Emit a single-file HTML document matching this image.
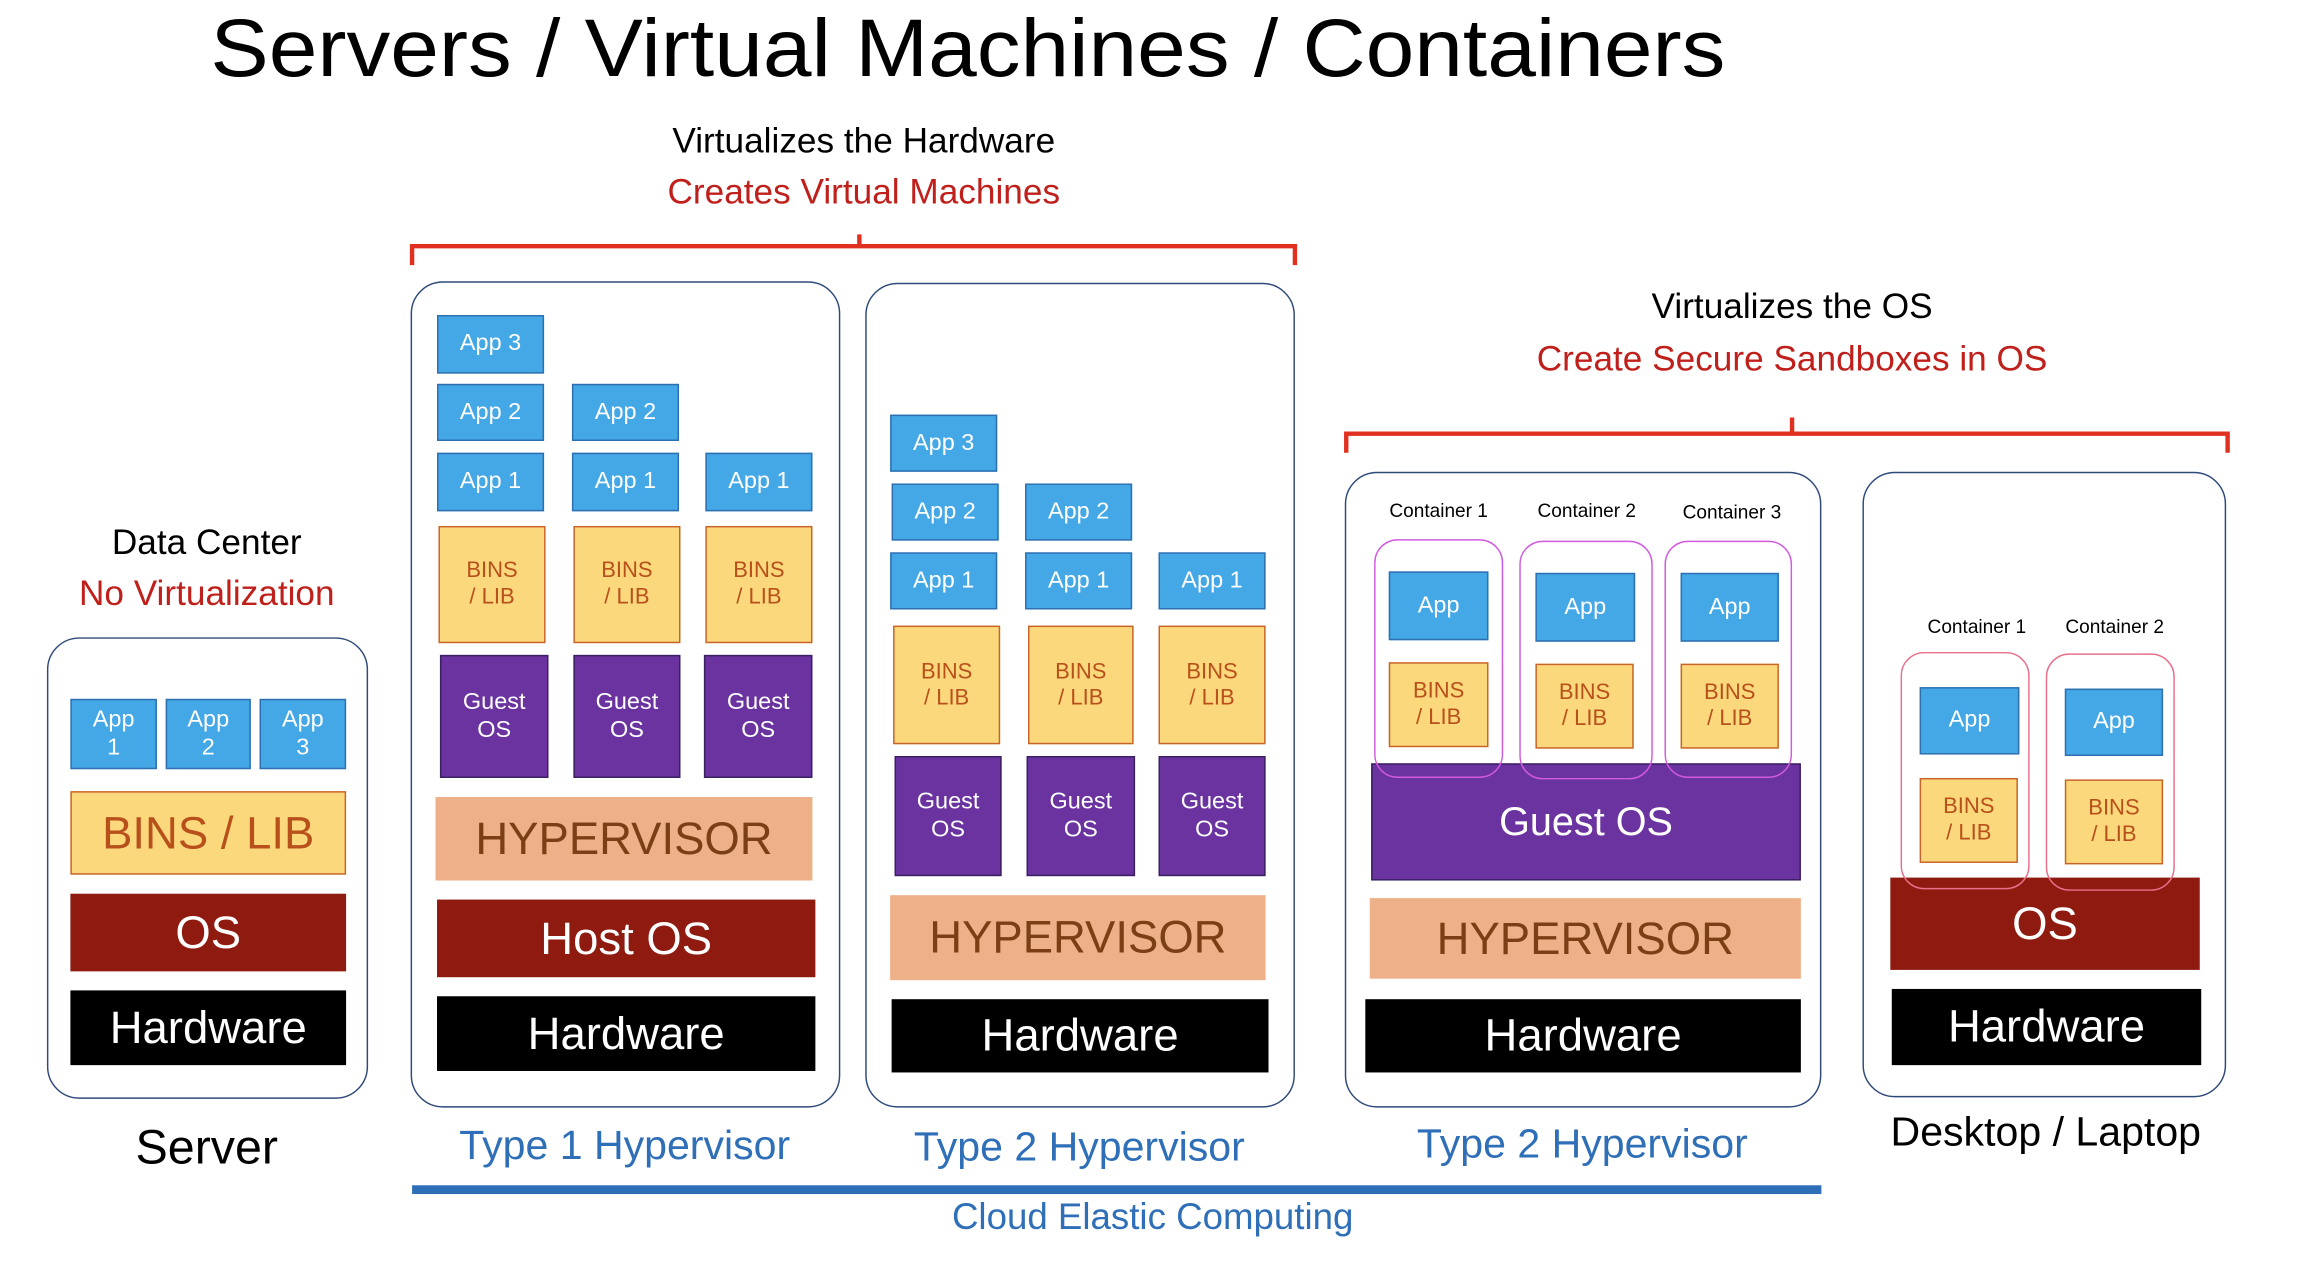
<!DOCTYPE html>
<html><head><meta charset="utf-8"><style>
html,body{margin:0;padding:0;background:#fff;}
body{width:2298px;height:1282px;overflow:hidden;position:relative;}
#s{position:absolute;left:0;top:0;width:1568px;height:875px;transform:scale(1.4665,1.4651);transform-origin:0 0;font-family:"Liberation Sans",sans-serif;}
.b{position:absolute;box-sizing:border-box;display:flex;align-items:center;justify-content:center;text-align:center;line-height:1.2;}
.app{background:#44a7e6;border:1.5px solid #2e6fb0;color:#fff;font-size:16px;}
.bin{background:#fbd87c;border:1.5px solid #c8642a;color:#b8501c;font-size:15px;}
.g{background:#6a33a0;border:1.5px solid #3a2060;color:#fff;font-size:16px;}
.hy{background:#edb088;color:#7a3f14;font-size:31px;}
.os{background:#8e1a10;color:#fff;font-size:31px;}
.hw{background:#000;color:#fff;font-size:31px;}
.box{position:absolute;box-sizing:border-box;border:1.5px solid #2f4a7a;border-radius:22px;}
.t{position:absolute;white-space:nowrap;transform:translateX(-50%);line-height:1;}
.cl{position:absolute;box-sizing:border-box;border:1.3px solid #d25ae0;border-radius:16px;}
.cp{position:absolute;box-sizing:border-box;border:1.3px solid #e8708a;border-radius:16px;}
</style></head><body><div id="s">
<div class="t" style="left:660px;top:5px;font-size:56px;transform:translateX(-50%) scaleX(1.065);">Servers / Virtual Machines / Containers</div>
<div class="t" style="left:589px;top:85px;font-size:24px;">Virtualizes the Hardware</div>
<div class="t" style="left:589px;top:120px;font-size:24px;color:#c0201c;">Creates Virtual Machines</div>
<div class="t" style="left:1222px;top:198px;font-size:24px;">Virtualizes the OS</div>
<div class="t" style="left:1222px;top:234px;font-size:24px;color:#c0201c;">Create Secure Sandboxes in OS</div>
<div class="t" style="left:141px;top:359px;font-size:24px;">Data Center</div>
<div class="t" style="left:141px;top:394px;font-size:24px;color:#c0201c;">No Virtualization</div>
<svg style="position:absolute;left:0;top:0" width="1568" height="875">
<path d="M281 181 V168 H883 V181 M586 168 V160" stroke="#e03020" stroke-width="3" fill="none"/>
<path d="M918 309 V296 H1519 V309 M1222 296 V285" stroke="#e03020" stroke-width="3" fill="none"/>
<rect x="281" y="809" width="961" height="6" fill="#2e6fb8"/>
</svg>
<div class="box" style="left:32px;top:435px;width:219px;height:315px;"></div>
<div class="b app" style="left:48px;top:477px;width:59px;height:48px;">App<br>1</div>
<div class="b app" style="left:113px;top:477px;width:58px;height:48px;">App<br>2</div>
<div class="b app" style="left:177px;top:477px;width:59px;height:48px;">App<br>3</div>
<div class="b bin" style="left:48px;top:540px;width:188px;height:57px;font-size:31px;">BINS / LIB</div>
<div class="b os" style="left:48px;top:610px;width:188px;height:53px;">OS</div>
<div class="b hw" style="left:48px;top:676px;width:188px;height:51px;">Hardware</div>
<div class="t" style="left:141px;top:766px;font-size:33px;">Server</div>
<div class="box" style="left:280px;top:192px;width:293px;height:564px;"></div>
<div class="b app" style="left:298px;top:215px;width:73px;height:40px;">App 3</div>
<div class="b app" style="left:298px;top:262px;width:73px;height:39px;">App 2</div>
<div class="b app" style="left:390px;top:262px;width:73px;height:39px;">App 2</div>
<div class="b app" style="left:298px;top:309px;width:73px;height:40px;">App 1</div>
<div class="b app" style="left:390px;top:309px;width:73px;height:40px;">App 1</div>
<div class="b app" style="left:481px;top:309px;width:73px;height:40px;">App 1</div>
<div class="b bin" style="left:299px;top:359px;width:73px;height:80px;">BINS<br>/ LIB</div>
<div class="b bin" style="left:391px;top:359px;width:73px;height:80px;">BINS<br>/ LIB</div>
<div class="b bin" style="left:481px;top:359px;width:73px;height:80px;">BINS<br>/ LIB</div>
<div class="b g" style="left:300px;top:447px;width:74px;height:84px;">Guest<br>OS</div>
<div class="b g" style="left:391px;top:447px;width:73px;height:84px;">Guest<br>OS</div>
<div class="b g" style="left:480px;top:447px;width:74px;height:84px;">Guest<br>OS</div>
<div class="b hy" style="left:297px;top:544px;width:257px;height:57px;">HYPERVISOR</div>
<div class="b os" style="left:298px;top:614px;width:258px;height:53px;">Host OS</div>
<div class="b hw" style="left:298px;top:680px;width:258px;height:51px;">Hardware</div>
<div class="t" style="left:426px;top:768px;font-size:28px;color:#2e6fb8;">Type 1 Hypervisor</div>
<div class="box" style="left:590px;top:193px;width:293px;height:563px;"></div>
<div class="b app" style="left:607px;top:283px;width:73px;height:39px;">App 3</div>
<div class="b app" style="left:608px;top:330px;width:73px;height:39px;">App 2</div>
<div class="b app" style="left:699px;top:330px;width:73px;height:39px;">App 2</div>
<div class="b app" style="left:607px;top:377px;width:73px;height:39px;">App 1</div>
<div class="b app" style="left:699px;top:377px;width:73px;height:39px;">App 1</div>
<div class="b app" style="left:790px;top:377px;width:73px;height:39px;">App 1</div>
<div class="b bin" style="left:609px;top:427px;width:73px;height:81px;">BINS<br>/ LIB</div>
<div class="b bin" style="left:701px;top:427px;width:72px;height:81px;">BINS<br>/ LIB</div>
<div class="b bin" style="left:790px;top:427px;width:73px;height:81px;">BINS<br>/ LIB</div>
<div class="b g" style="left:610px;top:516px;width:73px;height:82px;">Guest<br>OS</div>
<div class="b g" style="left:700px;top:516px;width:74px;height:82px;">Guest<br>OS</div>
<div class="b g" style="left:790px;top:516px;width:73px;height:82px;">Guest<br>OS</div>
<div class="b hy" style="left:607px;top:611px;width:256px;height:58px;">HYPERVISOR</div>
<div class="b hw" style="left:608px;top:682px;width:257px;height:50px;">Hardware</div>
<div class="t" style="left:736px;top:769px;font-size:28px;color:#2e6fb8;">Type 2 Hypervisor</div>
<div class="box" style="left:917px;top:322px;width:325px;height:434px;"></div>
<div class="t" style="left:981px;top:342px;font-size:13px;">Container 1</div>
<div class="t" style="left:1082px;top:342px;font-size:13px;">Container 2</div>
<div class="t" style="left:1181px;top:343px;font-size:13px;">Container 3</div>
<div class="b g" style="left:935px;top:521px;width:293px;height:80px;font-size:27px;">Guest OS</div>
<div class="cl" style="left:937px;top:368px;width:88px;height:163px;"></div>
<div class="cl" style="left:1036px;top:369px;width:91px;height:163px;"></div>
<div class="cl" style="left:1135px;top:369px;width:87px;height:162px;"></div>
<div class="b app" style="left:947px;top:390px;width:68px;height:47px;">App</div>
<div class="b app" style="left:1047px;top:391px;width:68px;height:47px;">App</div>
<div class="b app" style="left:1146px;top:391px;width:67px;height:47px;">App</div>
<div class="b bin" style="left:947px;top:452px;width:68px;height:58px;">BINS<br>/ LIB</div>
<div class="b bin" style="left:1047px;top:453px;width:67px;height:58px;">BINS<br>/ LIB</div>
<div class="b bin" style="left:1146px;top:453px;width:67px;height:58px;">BINS<br>/ LIB</div>
<div class="b hy" style="left:934px;top:613px;width:294px;height:55px;">HYPERVISOR</div>
<div class="b hw" style="left:931px;top:682px;width:297px;height:50px;">Hardware</div>
<div class="t" style="left:1079px;top:767px;font-size:28px;color:#2e6fb8;">Type 2 Hypervisor</div>
<div class="box" style="left:1270px;top:322px;width:248px;height:427px;"></div>
<div class="t" style="left:1348px;top:421px;font-size:13px;">Container 1</div>
<div class="t" style="left:1442px;top:421px;font-size:13px;">Container 2</div>
<div class="b os" style="left:1289px;top:599px;width:211px;height:63px;">OS</div>
<div class="cp" style="left:1296px;top:445px;width:88px;height:162px;"></div>
<div class="cp" style="left:1395px;top:446px;width:88px;height:162px;"></div>
<div class="b app" style="left:1309px;top:469px;width:68px;height:46px;">App</div>
<div class="b app" style="left:1408px;top:470px;width:67px;height:46px;">App</div>
<div class="b bin" style="left:1309px;top:531px;width:67px;height:58px;">BINS<br>/ LIB</div>
<div class="b bin" style="left:1408px;top:532px;width:67px;height:58px;">BINS<br>/ LIB</div>
<div class="b hw" style="left:1290px;top:675px;width:211px;height:52px;">Hardware</div>
<div class="t" style="left:1395px;top:759px;font-size:28px;">Desktop / Laptop</div>
<div class="t" style="left:786px;top:819px;font-size:25px;color:#2e6fb8;">Cloud Elastic Computing</div>
</div></body></html>
